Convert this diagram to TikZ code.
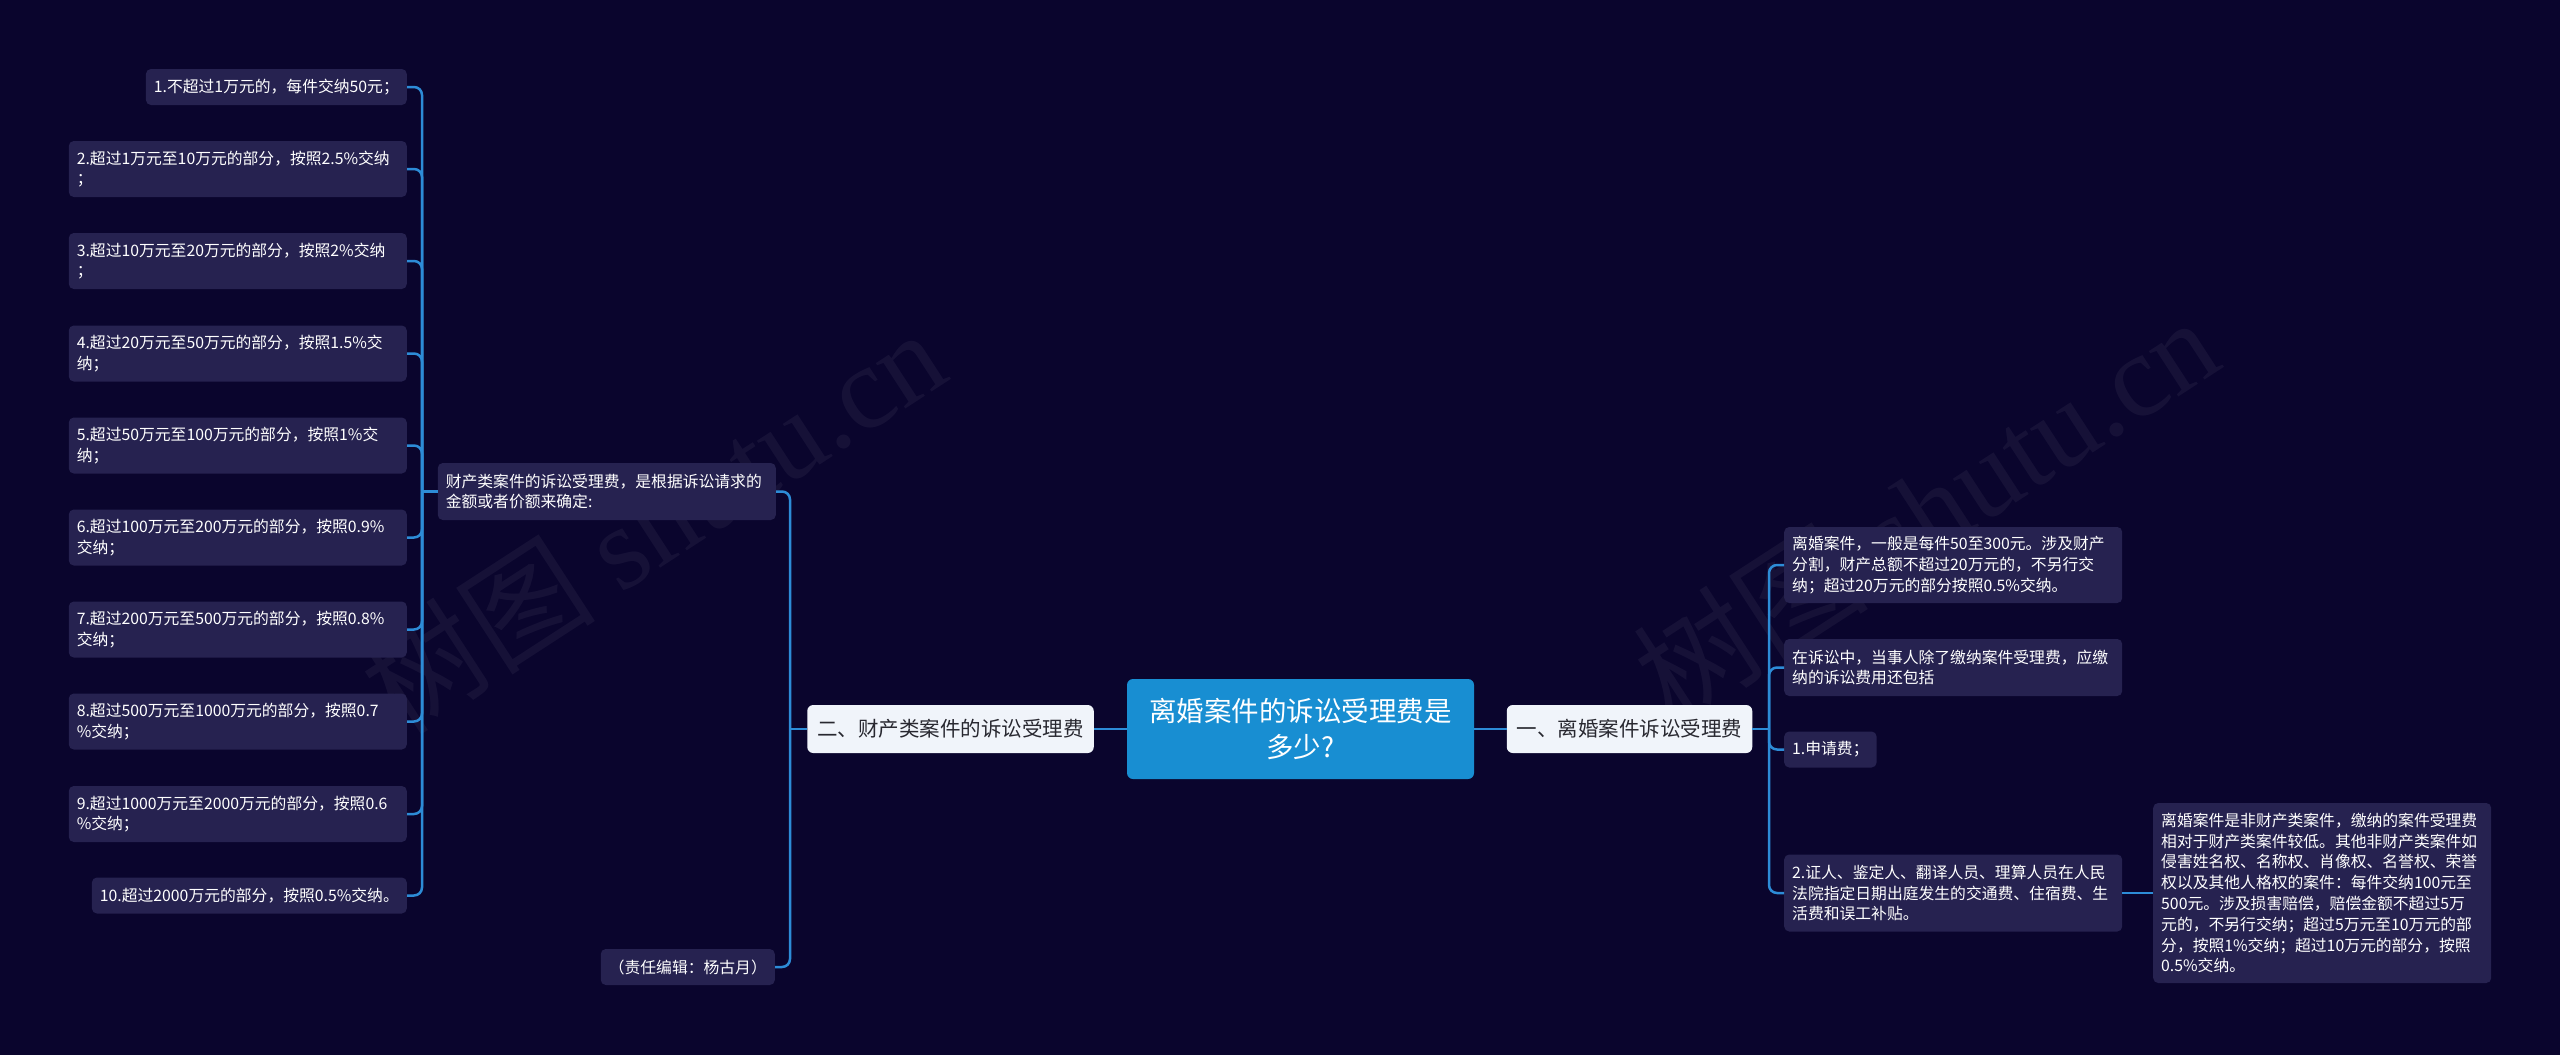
\documentclass[tikz,border=0pt]{standalone}
\usepackage{fontspec}
\setmainfont{Noto Sans CJK SC}
\newfontfamily\wmlatin{Liberation Serif}
\definecolor{bgc}{RGB}{10,5,45}
\definecolor{leafc}{RGB}{38,34,80}
\definecolor{rootc}{RGB}{24,142,210}
\definecolor{lvonec}{RGB}{240,244,250}
\definecolor{lvonetext}{RGB}{40,40,48}
\definecolor{linec}{RGB}{45,140,215}
\tikzset{
  leaf/.style={fill=leafc, rounded corners=5pt, text=white,
    font=\fontsize{15.8}{20.8}\selectfont, align=left,
    inner xsep=8pt, inner ysep=0pt},
  wide/.style={text width=322pt},
  rootnode/.style={fill=rootc, rounded corners=6pt, text=white,
    font=\fontsize{27.5}{36}\selectfont, align=center,
    minimum width=347pt, minimum height=100pt, inner sep=0pt},
  lvone/.style={fill=lvonec, rounded corners=6pt, text=lvonetext,
    font=\fontsize{20.5}{24}\selectfont, minimum height=48pt,
    inner xsep=10pt, inner ysep=0pt},
  conn/.style={draw=linec, line width=2.5pt, rounded corners=8pt},
  watermark/.style={text=white, opacity=0.05, rotate=33,
    font=\fontsize{118}{120}\selectfont},
}
\begin{document}
\begin{tikzpicture}[x=1pt,y=-1pt]
\useasboundingbox (0,0) rectangle (2560,1055);
\fill[bgc] (0,0) rectangle (2560,1055);

% watermarks
\node[watermark] (wm1) at (652,520) {树图 {\wmlatin shutu.cn}};
\node[watermark] (wm2) at (1925,508) {树图 {\wmlatin shutu.cn}};

% root and first level
\node[rootnode] (root) at (1300.5,729) {离婚案件的诉讼受理费是\\多少?};
\node[lvone] (R1) at (1629.5,729) {一、离婚案件诉讼受理费};
\node[lvone] (L1) at (950.5,729) {二、财产类案件的诉讼受理费};

% left side second level
\node[leaf, wide, anchor=east, minimum height=57pt] (l2a) at (776,491.5)
  {财产类案件的诉讼受理费，是根据诉讼请求的\\金额或者价额来确定:};
\node[leaf, anchor=east, minimum height=36pt] (ed) at (775,967)
  {（责任编辑：杨古月）};

% left leaves
\node[leaf, anchor=east, minimum height=36pt] (a1) at (407,87) {1.不超过1万元的，每件交纳50元；};
\node[leaf, wide, anchor=east, minimum height=56pt] (a2) at (407,169) {2.超过1万元至10万元的部分，按照2.5\%交纳\\；};
\node[leaf, wide, anchor=east, minimum height=56pt] (a3) at (407,261) {3.超过10万元至20万元的部分，按照2\%交纳\\；};
\node[leaf, wide, anchor=east, minimum height=56pt] (a4) at (407,353.5) {4.超过20万元至50万元的部分，按照1.5\%交\\纳；};
\node[leaf, wide, anchor=east, minimum height=56pt] (a5) at (407,445.5) {5.超过50万元至100万元的部分，按照1\%交\\纳；};
\node[leaf, wide, anchor=east, minimum height=56pt] (a6) at (407,537.5) {6.超过100万元至200万元的部分，按照0.9\%\\交纳；};
\node[leaf, wide, anchor=east, minimum height=56pt] (a7) at (407,629.5) {7.超过200万元至500万元的部分，按照0.8\%\\交纳；};
\node[leaf, wide, anchor=east, minimum height=56pt] (a8) at (407,721.5) {8.超过500万元至1000万元的部分，按照0.7\\\%交纳；};
\node[leaf, wide, anchor=east, minimum height=56pt] (a9) at (407,814) {9.超过1000万元至2000万元的部分，按照0.6\\\%交纳；};
\node[leaf, anchor=east, minimum height=36pt] (a10) at (407,895.5) {10.超过2000万元的部分，按照0.5\%交纳。};

% right leaves
\node[leaf, wide, anchor=west, minimum height=76pt] (r1) at (1784,565) {离婚案件，一般是每件50至300元。涉及财产\\分割，财产总额不超过20万元的，不另行交\\纳；超过20万元的部分按照0.5\%交纳。};
\node[leaf, wide, anchor=west, minimum height=57pt] (r2) at (1784,667.5) {在诉讼中，当事人除了缴纳案件受理费，应缴\\纳的诉讼费用还包括};
\node[leaf, anchor=west, minimum height=36pt] (r3) at (1784,749.5) {1.申请费；};
\node[leaf, wide, anchor=west, minimum height=77pt] (r4) at (1784,893) {2.证人、鉴定人、翻译人员、理算人员在人民\\法院指定日期出庭发生的交通费、住宿费、生\\活费和误工补贴。};
\node[leaf, wide, anchor=west, minimum height=180pt] (r4c) at (2153,893) {离婚案件是非财产类案件，缴纳的案件受理费\\相对于财产类案件较低。其他非财产类案件如\\侵害姓名权、名称权、肖像权、名誉权、荣誉\\权以及其他人格权的案件：每件交纳100元至\\500元。涉及损害赔偿，赔偿金额不超过5万\\元的，不另行交纳；超过5万元至10万元的部\\分，按照1\%交纳；超过10万元的部分，按照\\0.5\%交纳。};

% junctions
\coordinate (jL1) at (790,729);
\coordinate (jL2) at (422,491.5);
\coordinate (jR1) at (1769,729);

% connectors
\draw[conn] (root.west) -- (L1.east);
\draw[conn] (root.east) -- (R1.west);

\draw[conn] (L1.west) -- (jL1);
\draw[conn] (jL1) |- (l2a.east);
\draw[conn] (jL1) |- (ed.east);

\draw[conn] (l2a.west) -- (jL2);
\foreach \n in {a1,a2,a3,a4,a5,a6,a7,a8,a9,a10}
  \draw[conn] (jL2) |- (\n.east);

\draw[conn] (R1.east) -- (jR1);
\foreach \n in {r1,r2,r3,r4}
  \draw[conn] (jR1) |- (\n.west);
\draw[conn] (r4.east) -- (r4c.west);
\end{tikzpicture}
\end{document}
